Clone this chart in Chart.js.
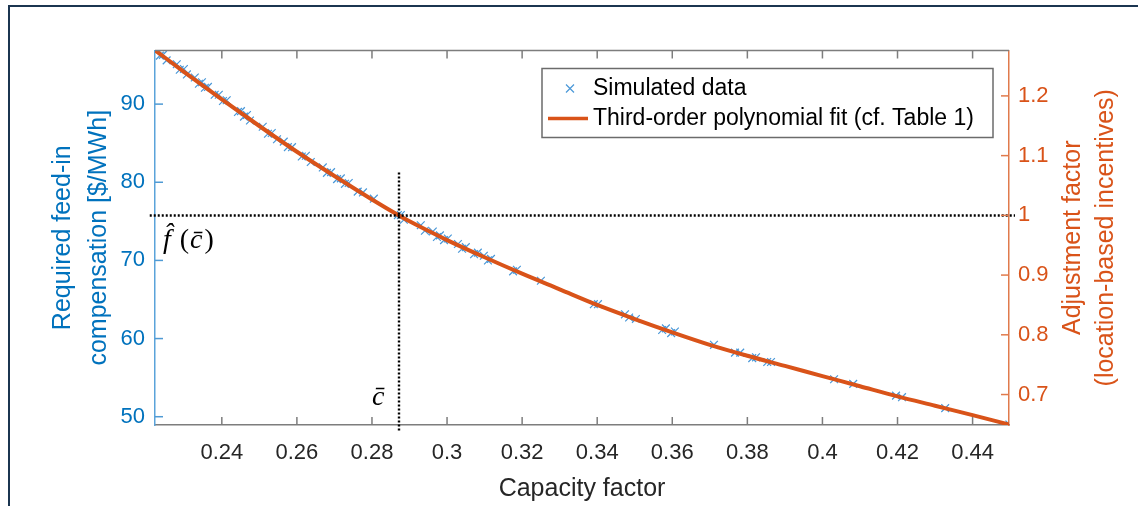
<!DOCTYPE html>
<html>
<head>
<meta charset="utf-8">
<script src="https://cdn.jsdelivr.net/npm/chart.js@4"></script>
<style>
  html, body { margin: 0; padding: 0; background: #fff; }
  #wrap { position: relative; width: 1138px; height: 506px; }
  #frame { position: absolute; left: 8px; top: 5px; right: 0; bottom: 0;
           border-top: 2px solid #1b3550; border-left: 2px solid #1b3550; pointer-events: none; }
</style>
</head>
<body>
<div id="wrap">
  <canvas id="fit_chart"></canvas>
  <div id="frame"></div>
</div>
<script>
// simulated locations: capacity factor vs. required compensation [$/MWh]
const sim_capacity = [0.2227, 0.2235, 0.2243, 0.2253, 0.2280, 0.2288, 0.2299, 0.2307, 0.2328, 0.2339,
  0.2347, 0.2355, 0.2363, 0.2381, 0.2392, 0.2403, 0.2413, 0.2443, 0.2451, 0.2459,
  0.2467, 0.2475, 0.2509, 0.2523, 0.2533, 0.2547, 0.2565, 0.2576, 0.2587, 0.2613,
  0.2624, 0.2637, 0.2669, 0.2680, 0.2691, 0.2707, 0.2717, 0.2728, 0.2738, 0.2762,
  0.2776, 0.2805, 0.2869, 0.2877, 0.2885, 0.2930, 0.2941, 0.2962, 0.2973, 0.2981,
  0.2992, 0.3002, 0.3029, 0.3040, 0.3050, 0.3072, 0.3082, 0.3098, 0.3109, 0.3117,
  0.3176, 0.3186, 0.3250, 0.3391, 0.3402, 0.3474, 0.3485, 0.3503, 0.3573, 0.3583,
  0.3597, 0.3607, 0.3711, 0.3767, 0.3781, 0.3813, 0.3823, 0.3853, 0.3863, 0.4031,
  0.4082, 0.4196, 0.4212, 0.4327, 0.4498];
const sim_compensation = [96.9, 96.2, 96.3, 95.6, 95.1, 94.4, 94.5, 93.8, 93.4, 92.6,
  92.8, 92.1, 92.2, 91.2, 91.2, 90.4, 90.5, 89.0, 89.1, 88.4,
  88.6, 87.9, 87.1, 86.2, 86.3, 85.5, 85.2, 84.5, 84.5, 83.3,
  83.4, 82.6, 81.9, 81.2, 81.3, 80.4, 80.5, 79.8, 79.9, 78.8,
  78.7, 77.9, 75.8, 75.8, 75.2, 74.5, 73.8, 73.7, 73.0, 73.2,
  72.6, 72.8, 72.1, 71.5, 71.7, 70.8, 71.0, 70.6, 70.0, 70.2,
  68.6, 68.8, 67.4, 64.4, 64.4, 63.1, 62.7, 62.5, 61.1, 61.3,
  60.7, 60.9, 59.2, 58.2, 58.2, 57.5, 57.6, 57.0, 57.0, 54.8,
  54.2, 52.7, 52.5, 51.1, 49.0];

// fitted curve
const fit_capacity = [0.2222, 0.23, 0.24, 0.25, 0.26, 0.27, 0.28, 0.2872, 0.29, 0.30, 0.31, 0.32,
  0.33, 0.34, 0.35, 0.36, 0.37, 0.38, 0.39, 0.40, 0.41, 0.42, 0.43, 0.44, 0.4497];
const fit_compensation = [96.9, 94.1, 90.6, 87.2, 83.9, 80.8, 77.8, 75.75, 75.0, 72.6, 70.4, 68.3,
  66.3, 64.3, 62.5, 60.8, 59.2, 57.8, 56.5, 55.2, 53.9, 52.6, 51.4, 50.2, 49.0];

// reference point c_bar / f_hat(c_bar)
const c_bar = 0.2872;
const f_bar = 75.75;

const x_range = [0.2222, 0.4497];
const y_range = [48.94, 96.86];
const y2_range = [0.649, 1.276];

const BLUE = "#0072BD";
const ORANGE = "#D95319";
const GREY = "#262626";
const FONT = "'Liberation Sans', Arial, sans-serif";
const SERIF = "'Liberation Serif', 'DejaVu Serif', serif";

const sim_points = sim_capacity.map((c, i) => ({ x: c, y: sim_compensation[i] }));
const fit_points = fit_capacity.map((c, i) => ({ x: c, y: fit_compensation[i] }));

const fmt = (v) => String(Math.round(v * 100) / 100);

// axis box: top edge plus tick marks pointing inwards
const boxTicks = {
  id: "boxTicks",
  afterDatasetsDraw(chart) {
    const { ctx, chartArea: a, scales } = chart;
    const seg = (x1, y1, x2, y2) => { ctx.beginPath(); ctx.moveTo(x1, y1); ctx.lineTo(x2, y2); ctx.stroke(); };
    ctx.save();
    ctx.lineWidth = 1.5;
    ctx.strokeStyle = "#7d7d7d";
    seg(a.left, a.top, a.right, a.top);
    scales.x.ticks.forEach((t) => {
      const px = scales.x.getPixelForValue(t.value);
      seg(px, a.bottom, px, a.bottom - 8);
      seg(px, a.top, px, a.top + 8);
    });
    ctx.strokeStyle = "#4f9ad4";
    scales.y.ticks.forEach((t) => {
      const py = scales.y.getPixelForValue(t.value);
      seg(a.left, py, a.left + 8, py);
    });
    ctx.strokeStyle = "#e07a4c";
    scales.y2.ticks.forEach((t) => {
      const py = scales.y2.getPixelForValue(t.value);
      seg(a.right, py, a.right - 8, py);
    });
    ctx.restore();
  },
};

// right axis title (reads bottom to top like the left one) and the c_bar labels
const labels = {
  id: "labels",
  afterDraw(chart) {
    const { ctx, chartArea: a, scales } = chart;
    ctx.save();
    const midY = (a.top + a.bottom) / 2;
    ctx.fillStyle = ORANGE;
    ctx.font = "25px " + FONT;
    ctx.textAlign = "center";
    ctx.textBaseline = "middle";
    [["Adjustment factor", 64], ["(location-based incentives)", 97]].forEach(([txt, dx]) => {
      ctx.save();
      ctx.translate(a.right + dx, midY);
      ctx.rotate(-Math.PI / 2);
      ctx.fillText(txt, 0, 0);
      ctx.restore();
    });

    // f_hat(c_bar) next to the horizontal guide
    ctx.fillStyle = "#000";
    ctx.textAlign = "left";
    ctx.textBaseline = "alphabetic";
    let x = scales.x.getPixelForValue(0.2243);
    const y = scales.y.getPixelForValue(71.6);
    const parts = [["f\u0302", "italic", 9], ["(", "normal", 1], ["c\u0304", "italic", 2], [")", "normal", 0]];
    parts.forEach(([txt, style, gap]) => {
      ctx.font = style + " 28px " + SERIF;
      ctx.fillText(txt, x, y);
      x += ctx.measureText(txt).width + gap;
    });
    ctx.font = "italic 28px " + SERIF;
    ctx.fillText("c\u0304", scales.x.getPixelForValue(0.2800), scales.y.getPixelForValue(51.55));
    ctx.restore();
  },
};

// legend box in the upper right of the plot
const legendBox = {
  id: "legendBox",
  afterDraw(chart) {
    const { ctx, chartArea: a } = chart;
    const [sim, fit] = chart.data.datasets;
    const w = 451, h = 69;
    const left = a.right - 16 - w, top = a.top + 18;
    ctx.save();
    ctx.fillStyle = "#fff";
    ctx.fillRect(left, top, w, h);
    ctx.strokeStyle = "#6b6b6b";
    ctx.lineWidth = 1.5;
    ctx.strokeRect(left, top, w, h);

    const r1 = top + 20, r2 = top + 50;
    ctx.strokeStyle = sim.borderColor;
    ctx.lineWidth = 1.2;
    ctx.beginPath();
    ctx.moveTo(left + 24, r1 - 4); ctx.lineTo(left + 32, r1 + 4);
    ctx.moveTo(left + 32, r1 - 4); ctx.lineTo(left + 24, r1 + 4);
    ctx.stroke();
    ctx.strokeStyle = fit.borderColor;
    ctx.lineWidth = 3.5;
    ctx.beginPath(); ctx.moveTo(left + 6, r2); ctx.lineTo(left + 46, r2); ctx.stroke();

    ctx.fillStyle = "#000";
    ctx.font = "23px " + FONT;
    ctx.textBaseline = "middle";
    ctx.fillText(sim.label, left + 51, r1);
    ctx.fillText(fit.label, left + 51, r2);
    ctx.restore();
  },
};

const fit_ctx = document.getElementById("fit_chart");

const fit_chart = new Chart(fit_ctx, {
  type: "scatter",
  data: {
    datasets: [
      {
        label: "Simulated data",
        data: sim_points,
        pointStyle: "crossRot",
        pointRadius: 5.5,
        borderColor: "#4a98d8",
        borderWidth: 1.2,
        order: 3,
      },
      {
        label: "Third-order polynomial fit (cf. Table 1)",
        data: fit_points,
        showLine: true,
        pointRadius: 0,
        borderColor: ORANGE,
        borderWidth: 4,
        cubicInterpolationMode: "monotone",
        order: 2,
      },
      {
        label: "f_bar",
        data: [{ x: 0.2208, y: f_bar }, { x: 0.4513, y: f_bar }],
        showLine: true,
        pointRadius: 0,
        borderColor: "#000",
        borderWidth: 2.4,
        borderDash: [2, 2],
        clip: false,
        order: 1,
      },
      {
        label: "c_bar",
        data: [{ x: c_bar, y: 81.25 }, { x: c_bar, y: 48.0 }],
        showLine: true,
        pointRadius: 0,
        borderColor: "#000",
        borderWidth: 2.4,
        borderDash: [2, 2],
        clip: false,
        order: 1,
      },
    ],
  },
  options: {
    responsive: true,
    maintainAspectRatio: false,
    animation: false,
    layout: { padding: { top: 50.5, left: 0, right: 0, bottom: 0 } },
    plugins: { legend: { display: false }, tooltip: { enabled: false } },
    scales: {
      x: {
        type: "linear",
        position: "bottom",
        min: x_range[0],
        max: x_range[1],
        grid: { display: false, drawTicks: false },
        border: { color: "#7d7d7d", width: 1.5 },
        ticks: { stepSize: 0.02, includeBounds: false, padding: 15, color: GREY,
                 font: { family: FONT, size: 22 }, callback: fmt },
        title: { display: true, text: "Capacity factor", color: GREY,
                 font: { family: FONT, size: 25 }, padding: { top: 0, bottom: 2 } },
        afterFit: (s) => { s.height = 81; },
      },
      y: {
        type: "linear",
        position: "left",
        min: y_range[0],
        max: y_range[1],
        grid: { display: false, drawTicks: false },
        border: { color: "#5aa3da", width: 1.5 },
        ticks: { stepSize: 10, includeBounds: false, padding: 10, color: BLUE,
                 font: { family: FONT, size: 22 }, callback: fmt },
        title: { display: true, text: ["Required feed-in", "compensation [$/MWh]"], color: BLUE,
                 font: { family: FONT, size: 25, lineHeight: 1.44 }, padding: { top: 45, bottom: 0 } },
        afterFit: (s) => { s.width = 155; },
      },
      y2: {
        type: "linear",
        position: "right",
        min: y2_range[0],
        max: y2_range[1],
        grid: { display: false, drawTicks: false },
        border: { color: "#e07a4c", width: 1.5 },
        ticks: { stepSize: 0.1, includeBounds: false, padding: 9, color: ORANGE,
                 font: { family: FONT, size: 22 }, callback: fmt },
        afterFit: (s) => { s.width = 129; },
      },
    },
  },
  plugins: [boxTicks, labels, legendBox],
});
</script>
</body>
</html>
